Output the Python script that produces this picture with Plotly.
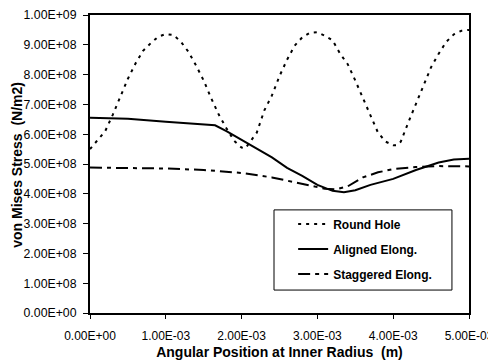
import plotly.graph_objects as go

# Angular position (m)
x_round = [0.0, 0.1e-3, 0.2e-3, 0.3e-3, 0.4e-3, 0.5e-3, 0.6e-3, 0.7e-3, 0.8e-3, 0.9e-3,
           1.0e-3, 1.1e-3, 1.2e-3, 1.3e-3, 1.4e-3, 1.5e-3, 1.6e-3, 1.7e-3, 1.8e-3, 1.9e-3,
           2.0e-3, 2.05e-3, 2.1e-3, 2.2e-3, 2.3e-3, 2.4e-3, 2.5e-3, 2.6e-3, 2.7e-3, 2.8e-3,
           2.9e-3, 3.0e-3, 3.1e-3, 3.2e-3, 3.3e-3, 3.4e-3, 3.5e-3, 3.6e-3, 3.7e-3, 3.8e-3,
           3.9e-3, 4.0e-3, 4.05e-3, 4.1e-3, 4.2e-3, 4.3e-3, 4.4e-3, 4.5e-3, 4.6e-3, 4.7e-3,
           4.8e-3, 4.9e-3, 5.0e-3]
y_round = [5.5e8, 5.8e8, 6.1e8, 6.65e8, 7.28e8, 7.86e8, 8.37e8, 8.8e8, 9.05e8, 9.27e8,
           9.36e8, 9.33e8, 9.1e8, 8.76e8, 8.3e8, 7.8e8, 7.2e8, 6.65e8, 6.2e8, 5.78e8,
           5.55e8, 5.53e8, 5.7e8, 6.05e8, 6.8e8, 7.3e8, 7.95e8, 8.5e8, 8.97e8, 9.25e8,
           9.4e8, 9.42e8, 9.3e8, 9.15e8, 8.7e8, 8.35e8, 7.8e8, 7.2e8, 6.6e8, 6.05e8,
           5.75e8, 5.63e8, 5.63e8, 5.75e8, 6.4e8, 7.0e8, 7.6e8, 8.25e8, 8.7e8, 9.1e8,
           9.35e8, 9.47e8, 9.5e8]

x_aligned = [0.0, 0.5e-3, 1.0e-3, 1.5e-3, 1.65e-3, 1.8e-3, 2.0e-3, 2.2e-3, 2.4e-3, 2.6e-3,
             2.8e-3, 3.0e-3, 3.2e-3, 3.35e-3, 3.5e-3, 3.7e-3, 4.0e-3, 4.3e-3, 4.6e-3, 4.8e-3, 5.0e-3]
y_aligned = [6.55e8, 6.52e8, 6.42e8, 6.33e8, 6.3e8, 6.1e8, 5.8e8, 5.5e8, 5.22e8, 4.87e8,
             4.6e8, 4.3e8, 4.1e8, 4.05e8, 4.12e8, 4.3e8, 4.5e8, 4.8e8, 5.05e8, 5.15e8, 5.18e8]

x_staggered = [0.0, 0.5e-3, 1.0e-3, 1.5e-3, 2.0e-3, 2.4e-3, 2.8e-3, 3.1e-3, 3.25e-3, 3.4e-3,
               3.6e-3, 3.8e-3, 4.0e-3, 4.3e-3, 4.6e-3, 5.0e-3]
y_staggered = [4.88e8, 4.87e8, 4.85e8, 4.8e8, 4.7e8, 4.55e8, 4.32e8, 4.17e8, 4.15e8, 4.25e8,
               4.55e8, 4.72e8, 4.83e8, 4.9e8, 4.93e8, 4.92e8]

x_tickvals = [0.0, 1e-3, 2e-3, 3e-3, 4e-3, 5e-3]
x_ticktext = ["0.00E+00", "1.00E-03", "2.00E-03", "3.00E-03", "4.00E-03", "5.00E-03"]
y_tickvals = [0, 1e8, 2e8, 3e8, 4e8, 5e8, 6e8, 7e8, 8e8, 9e8, 1e9]
y_ticktext = ["0.00E+00", "1.00E+08", "2.00E+08", "3.00E+08", "4.00E+08", "5.00E+08",
              "6.00E+08", "7.00E+08", "8.00E+08", "9.00E+08", "1.00E+09"]

FONT = "Liberation Sans, Arial, sans-serif"

fig = go.Figure()
fig.add_trace(go.Scatter(x=x_round, y=y_round, mode="lines", name="<b>Round Hole</b>",
                         legendgroup="a",
                         line=dict(color="black", width=2, dash="3px,5px")))
fig.add_trace(go.Scatter(x=x_aligned, y=y_aligned, mode="lines", name="<b>Aligned Elong.</b>",
                         legendgroup="b",
                         line=dict(color="black", width=2)))
fig.add_trace(go.Scatter(x=x_staggered, y=y_staggered, mode="lines", name="<b>Staggered Elong.</b>",
                         legendgroup="c",
                         line=dict(color="black", width=2, dash="12px,5px,4px,5px")))

# legend frame
fig.add_shape(type="rect", xref="paper", yref="paper",
              x0=0.4855, x1=0.955, y0=0.077, y1=0.346,
              line=dict(color="black", width=1), fillcolor="white", layer="above")

# y-axis title
fig.add_annotation(text="<b>von Mises Stress  (N/m2)</b>", xref="paper", yref="paper",
                   x=-0.193, y=0.497, xanchor="center", yanchor="middle",
                   textangle=-90, showarrow=False, font=dict(size=14, family=FONT))

# page body has an 8px margin, so the figure is 8px smaller and offset
fig.update_layout(
    width=488, height=356,
    margin=dict(l=82, r=27, t=7, b=51),
    paper_bgcolor="white", plot_bgcolor="white",
    font=dict(family=FONT, size=12, color="black"),
    showlegend=True,
    legend=dict(x=0.536, y=0.347, xanchor="left", yanchor="top",
                bgcolor="rgba(0,0,0,0)", borderwidth=0,
                tracegroupgap=6, font=dict(size=12, family=FONT)),
    xaxis=dict(range=[0, 5e-3], tickvals=x_tickvals, ticktext=x_ticktext,
               showgrid=False, zeroline=False, showline=True, linecolor="black",
               linewidth=2, mirror=True, ticks="outside", ticklen=4, tickwidth=1,
               tickcolor="black", ticklabelstandoff=7, automargin=False,
               tickfont=dict(size=12),
               title=dict(text="<b>Angular Position at Inner Radius  (m)</b>",
                          font=dict(size=14), standoff=5)),
    yaxis=dict(range=[0, 1e9], tickvals=y_tickvals, ticktext=y_ticktext,
               showgrid=False, zeroline=False, showline=True, linecolor="black",
               linewidth=2, mirror=True, ticks="outside", ticklen=5, tickwidth=1,
               tickcolor="black", ticklabelstandoff=4, automargin=False,
               tickfont=dict(size=12.3)),
)

fig.write_html("out.html")
